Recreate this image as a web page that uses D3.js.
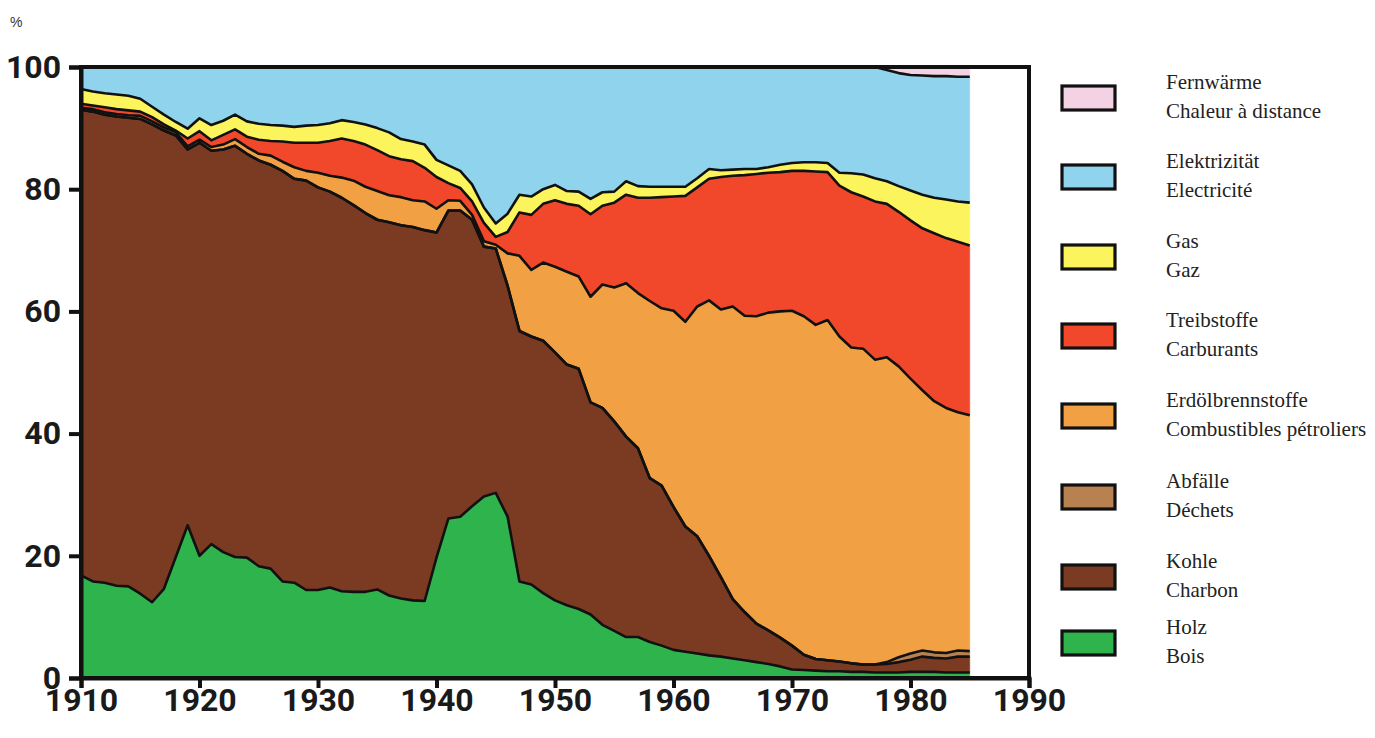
<!DOCTYPE html>
<html>
<head>
<meta charset="utf-8">
<script src="https://cdn.jsdelivr.net/npm/d3@7"></script>
<style>
  html, body { margin: 0; padding: 0; background: #fff; }
  svg { display: block; }
</style>
</head>
<body>
<svg id="chart" width="1375" height="738"></svg>
<script>
// ---------------- DATA ----------------
const years = [
  1910,1911,1912,1913,1914,1915,1916,1917,1918,1919,
  1920,1921,1922,1923,1924,1925,1926,1927,1928,1929,
  1930,1931,1932,1933,1934,1935,1936,1937,1938,1939,
  1940,1941,1942,1943,1944,1945,1946,1947,1948,1949,
  1950,1951,1952,1953,1954,1955,1956,1957,1958,1959,
  1960,1961,1962,1963,1964,1965,1966,1967,1968,1969,
  1970,1971,1972,1973,1974,1975,1976,1977,1978,1979,
  1980,1981,1982,1983,1984,1985];

const holz = [
  16.8,15.8,15.6,15.1,15.0,13.8,12.4,14.6,19.8,25.0,
  20.0,21.9,20.6,19.8,19.7,18.3,17.9,15.8,15.6,14.4,
  14.4,14.8,14.2,14.1,14.1,14.5,13.5,13.0,12.7,12.6,
  19.7,26.1,26.4,28.1,29.7,30.3,26.4,15.8,15.3,13.9,
  12.7,11.9,11.3,10.4,8.7,7.7,6.7,6.7,5.9,5.3,
  4.6,4.3,4.0,3.7,3.5,3.2,2.9,2.6,2.3,1.9,
  1.4,1.3,1.2,1.1,1.1,1.0,1.0,0.9,0.9,0.9,
  1.0,1.0,1.0,0.9,0.9,0.9];

const kohle = [
  76.2,76.9,76.6,76.8,76.7,77.7,78.2,75.0,69.0,61.5,
  67.6,64.4,65.9,67.3,66.1,66.4,66.1,67.2,66.1,67.0,
  65.9,64.8,64.4,63.3,62.0,60.5,61.1,61.1,61.1,60.7,
  53.2,50.4,50.1,46.9,40.9,40.0,37.8,41.0,40.6,41.3,
  40.6,39.4,39.3,34.7,35.5,34.3,32.8,30.9,26.8,26.2,
  23.4,20.5,19.2,16.3,13.0,9.7,7.9,6.3,5.5,4.7,
  3.9,2.5,1.9,1.8,1.6,1.4,1.2,1.3,1.4,1.7,
  2.0,2.5,2.3,2.3,2.6,2.6];

const abfaelle = [
  0,0,0,0,0,0,0,0,0,0,
  0,0,0,0,0,0,0,0,0,0,
  0,0,0,0,0,0,0,0,0,0,
  0,0,0,0,0,0,0,0,0,0,
  0,0,0,0,0,0,0,0,0,0,
  0,0,0,0,0,0,0,0,0,0,
  0,0,0,0,0,0,0,0,0.3,0.8,
  1.0,1.0,0.9,0.9,1.0,0.9];

const erdoel = [
  0.3,0.4,0.4,0.4,0.4,0.5,0.5,0.5,0.5,0.5,
  0.5,0.6,0.8,1.1,1.1,1.1,1.5,1.5,1.9,1.6,
  2.4,2.6,3.3,4.0,4.3,4.7,4.4,4.6,4.4,4.7,
  3.9,1.7,1.6,0.8,0.9,0.6,5.3,12.3,10.9,12.8,
  14.0,15.2,15.1,17.3,20.2,21.9,25.1,25.4,29.0,29.0,
  32.1,33.5,37.6,41.8,43.8,47.9,48.5,50.3,52.0,53.4,
  54.8,55.4,54.7,55.7,53.2,51.7,51.7,49.9,49.9,47.6,
  45.0,42.6,41.1,40.1,39.0,38.6];

const treib = [
  0.7,0.6,0.8,0.8,0.8,0.7,0.7,0.5,0.3,1.3,
  1.4,1.1,1.6,1.6,1.7,2.3,2.4,3.3,4.0,4.6,
  4.9,5.7,6.4,6.5,6.9,6.7,6.4,6.2,6.4,5.5,
  5.2,2.8,2.1,2.2,3.0,1.3,3.5,7.1,9.0,9.6,
  10.9,11.1,11.6,13.5,12.9,13.9,14.5,15.6,16.9,18.2,
  18.7,20.6,19.5,19.9,21.7,21.4,23.0,23.3,22.9,22.8,
  22.9,23.8,25.1,24.2,24.7,25.4,24.9,25.9,25.1,25.3,
  25.9,26.5,27.5,27.8,27.9,27.8];

const gas = [
  2.4,2.3,2.3,2.4,2.4,2.1,1.7,1.6,1.4,1.6,
  2.1,2.5,2.3,2.4,2.5,2.6,2.6,2.6,2.6,2.8,
  2.9,2.9,3.0,3.1,3.3,3.6,3.9,3.3,3.2,3.8,
  2.8,2.9,2.8,2.8,2.5,2.2,3.0,2.9,3.0,2.4,
  2.5,2.1,2.3,2.5,2.2,1.8,2.2,1.9,1.8,1.7,
  1.6,1.5,1.5,1.6,1.1,1.0,1.0,0.8,0.9,1.2,
  1.3,1.4,1.5,1.5,2.1,3.1,3.6,3.8,3.7,4.2,
  4.9,5.5,5.8,6.3,6.6,7.0];

const elektrizitaet = [
  3.6,4.0,4.3,4.5,4.7,5.2,6.5,7.8,9.0,10.1,
  8.4,9.5,8.8,7.8,8.9,9.3,9.5,9.6,9.8,9.6,
  9.5,9.2,8.7,9.0,9.4,10.0,10.7,11.8,12.2,12.7,
  15.2,16.1,17.0,19.2,23.0,25.6,24.0,20.9,21.2,20.0,
  19.3,20.3,20.4,21.6,20.5,20.4,18.7,19.5,19.6,19.6,
  19.6,19.6,18.2,16.7,16.9,16.8,16.7,16.7,16.4,16.0,
  15.7,15.6,15.6,15.7,17.3,17.4,17.6,18.2,18.2,18.5,
  18.9,19.5,19.9,20.2,20.4,20.6];

const fernwaerme = [
  0,0,0,0,0,0,0,0,0,0,
  0,0,0,0,0,0,0,0,0,0,
  0,0,0,0,0,0,0,0,0,0,
  0,0,0,0,0,0,0,0,0,0,
  0,0,0,0,0,0,0,0,0,0,
  0,0,0,0,0,0,0,0,0,0,
  0,0,0,0,0,0,0,0,0.5,1.0,
  1.3,1.4,1.5,1.5,1.6,1.6];

// series (bottom to top)
const seriesKeys   = ["holz","kohle","abfaelle","erdoel","treib","gas","elektrizitaet","fernwaerme"];
const seriesValues = [holz, kohle, abfaelle, erdoel, treib, gas, elektrizitaet, fernwaerme];
const labelsDE = ["Holz","Kohle","Abfälle","Erdölbrennstoffe","Treibstoffe","Gas","Elektrizität","Fernwärme"];
const labelsFR = ["Bois","Charbon","Déchets","Combustibles pétroliers","Carburants","Gaz","Electricité","Chaleur à distance"];
const colors   = ["#2fb34c","#7b3a22","#b88250","#f1a043","#f1472b","#fcf45c","#8fd4ec","#f3d2e4"];

const yTicks = [0, 20, 40, 60, 80, 100];
const xTicks = [1910, 1920, 1930, 1940, 1950, 1960, 1970, 1980, 1990];

// ---------------- LAYOUT ----------------
const svg = d3.select("#chart");
const X0 = 81, X1 = 1029, Y0 = 678, Y1 = 67;

const x = d3.scaleLinear().domain([1910, 1990]).range([X0, X1]);
const y = d3.scaleLinear().domain([0, 100]).range([Y0, Y1]);

const table = years.map((yr, i) => {
  const row = { year: yr };
  seriesKeys.forEach((k, j) => row[k] = seriesValues[j][i]);
  return row;
});

const stacked = d3.stack().keys(seriesKeys)(table);

const area = d3.area()
  .x(d => x(d.data.year))
  .y0(d => y(d[0]))
  .y1(d => y(d[1]));

const topLine = d3.line()
  .x(d => x(d.data.year))
  .y(d => y(d[1]));

const gPlot = svg.append("g");

gPlot.selectAll("path.area")
  .data(stacked)
  .join("path")
  .attr("class", "area")
  .attr("d", area)
  .attr("fill", (d, i) => colors[i])
  .attr("stroke", (d, i) => colors[i])
  .attr("stroke-width", 0.5);

gPlot.selectAll("path.edge")
  .data(stacked.slice(0, stacked.length - 1))
  .join("path")
  .attr("class", "edge")
  .attr("d", topLine)
  .attr("fill", "none")
  .attr("stroke", "#111")
  .attr("stroke-width", 2.6)
  .attr("stroke-linejoin", "round");

// frame
svg.append("rect")
  .attr("x", X0).attr("y", Y1)
  .attr("width", X1 - X0).attr("height", Y0 - Y1)
  .attr("fill", "none").attr("stroke", "#111").attr("stroke-width", 4);

// axes
const axisFont = "Roboto, 'Liberation Sans', sans-serif";

const yAxis = d3.axisLeft(y).tickValues(yTicks).tickSize(12).tickPadding(8).tickFormat(d3.format("d"));
const gy = svg.append("g").attr("transform", `translate(${X0},0)`).call(yAxis);
gy.select(".domain").attr("stroke", "#111").attr("stroke-width", 4);
gy.selectAll(".tick line").attr("stroke", "#111").attr("stroke-width", 4);
gy.selectAll(".tick text")
  .attr("fill", "#1a1a1a")
  .style("font-family", axisFont).style("font-weight", "700").style("font-size", "32px");

const xAxis = d3.axisBottom(x).tickValues(xTicks).tickSize(10).tickPadding(0).tickFormat(d3.format("d"));
const gx = svg.append("g").attr("transform", `translate(0,${Y0})`).call(xAxis);
gx.select(".domain").attr("stroke", "#111").attr("stroke-width", 4);
gx.selectAll(".tick line").attr("stroke", "#111").attr("stroke-width", 4);
gx.selectAll(".tick text")
  .attr("y", 10)
  .attr("fill", "#1a1a1a")
  .style("font-family", axisFont).style("font-weight", "700").style("font-size", "32px");

svg.append("text")
  .attr("x", 10).attr("y", 27)
  .attr("fill", "#333")
  .style("font-family", "'Liberation Sans', Arial, sans-serif")
  .style("font-size", "14px")
  .text("%");

// legend (top to bottom)
const legendCY = [98, 177, 257, 336, 416, 497, 577, 643];
const legendOrder = d3.range(seriesKeys.length).reverse();
const gLeg = svg.append("g");
legendOrder.forEach((si, idx) => {
  const cy = legendCY[idx];
  gLeg.append("rect")
    .attr("x", 1062).attr("y", cy - 12)
    .attr("width", 53).attr("height", 24)
    .attr("fill", colors[si])
    .attr("stroke", "#111").attr("stroke-width", 3.2);
  const t = gLeg.append("text")
    .attr("fill", "#222")
    .style("font-family", "'Liberation Serif', 'Times New Roman', serif")
    .style("font-size", "21px");
  t.append("tspan").attr("x", 1166).attr("y", cy - 9).text(labelsDE[si]);
  t.append("tspan").attr("x", 1166).attr("y", cy + 20).text(labelsFR[si]);
});
</script>
</body>
</html>
